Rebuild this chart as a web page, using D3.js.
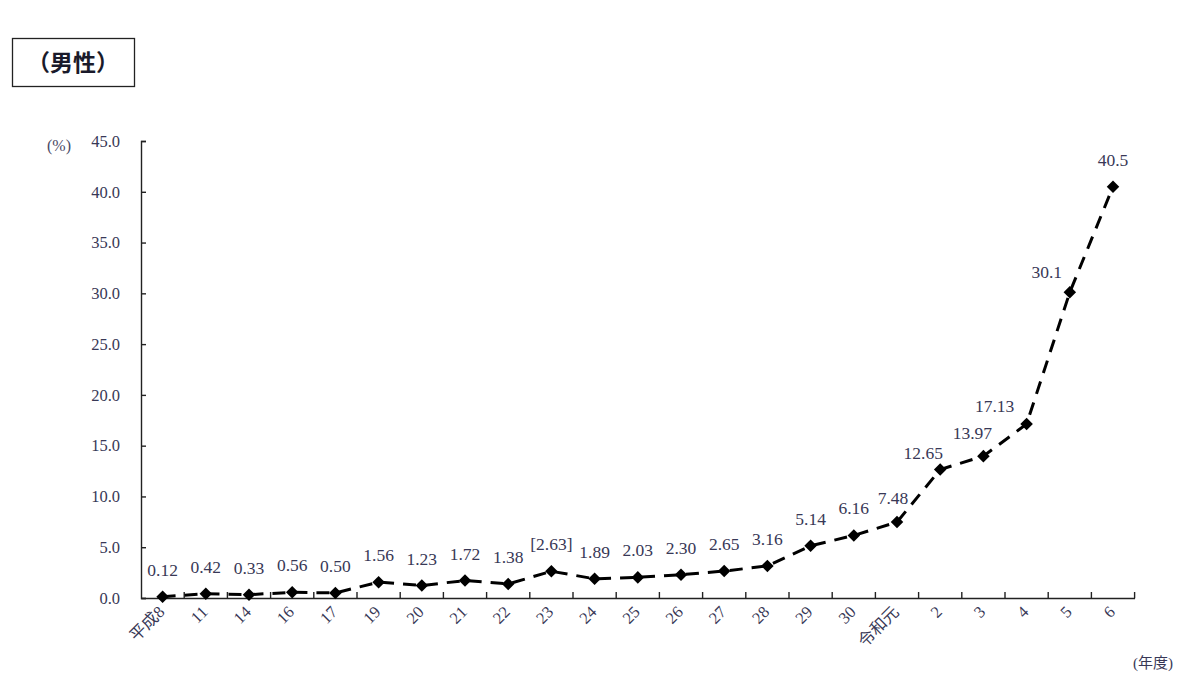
<!DOCTYPE html>
<html><head><meta charset="utf-8">
<script src="https://cdn.jsdelivr.net/npm/d3@7"></script>
<style>body{margin:0;background:#fff;} svg{display:block;}</style>
</head><body>
<svg id="c" width="1200" height="692"></svg>
<script>
const categories = ["平成8","11","14","16","17","19","20","21","22","23","24","25","26","27","28","29","30","令和元","2","3","4","5","6"];
const values = [0.12,0.42,0.33,0.56,0.50,1.56,1.23,1.72,1.38,2.63,1.89,2.03,2.30,2.65,3.16,5.14,6.16,7.48,12.65,13.97,17.13,30.1,40.5];
const valueLabels = ["0.12","0.42","0.33","0.56","0.50","1.56","1.23","1.72","1.38","[2.63]","1.89","2.03","2.30","2.65","3.16","5.14","6.16","7.48","12.65","13.97","17.13","30.1","40.5"];
const yTicks = [0,5,10,15,20,25,30,35,40,45];
const titleText = "（男性）";

(function(){
const svg = d3.select("#c");
const mLeft = 141, mRight = 1134.6, mTop = 141, mBottom = 598;
const serif = "'Liberation Serif','DejaVu Serif','Noto Sans CJK JP',serif";
const txtColor = "#383856";

const x = d3.scaleBand().domain(categories).range([mLeft, mRight]).padding(0);
const y = d3.scaleLinear().domain([0, 45]).range([mBottom, mTop]);

// title box
svg.append("rect").attr("x",12.5).attr("y",38.5).attr("width",122).attr("height",48)
  .attr("fill","none").attr("stroke","#222").attr("stroke-width",1.3);
svg.append("text").attr("x",73).attr("y",71).attr("text-anchor","middle")
  .attr("font-family","'Noto Sans CJK JP',sans-serif").attr("font-weight","bold")
  .attr("font-size",23).attr("fill","#1a1a2a").text(titleText);

// y axis
const yAxis = svg.append("g").attr("transform",`translate(${mLeft},0)`)
  .call(d3.axisRight(y).tickValues(yTicks).tickSize(5).tickFormat(d3.format(".1f")));
yAxis.select(".domain").attr("stroke","#222").attr("stroke-width",1.4);
yAxis.selectAll(".tick line").attr("stroke","#222").attr("stroke-width",1.4);
yAxis.selectAll(".tick text").attr("x",-21).attr("text-anchor","end")
  .attr("font-family",serif).attr("font-size",16.5).attr("fill",txtColor);

// x axis
const xAxis = svg.append("g").attr("transform",`translate(0,${mBottom})`)
  .call(d3.axisTop(x).tickSize(0).tickFormat(""));
xAxis.select(".domain").attr("stroke","#222").attr("stroke-width",1.4);
xAxis.selectAll(".tick").remove();
const bounds = d3.range(categories.length + 1).map(i => mLeft + i * x.bandwidth());
xAxis.selectAll("line.b").data(bounds.slice(1)).enter().append("line").attr("class","b")
  .attr("x1",d=>d).attr("x2",d=>d).attr("y1",0).attr("y2",-6)
  .attr("stroke","#222").attr("stroke-width",1.4);

svg.append("g").selectAll("text").data(categories).enter().append("text")
  .attr("transform", d => `translate(${x(d)+x.bandwidth()/2+3},${mBottom+15}) rotate(-45)`)
  .attr("text-anchor","end").attr("font-family",serif).attr("font-size",16.5)
  .attr("fill",txtColor).text(d=>d);

// unit labels
svg.append("text").attr("x",47).attr("y",151).attr("font-family",serif)
  .attr("font-size",16).attr("fill","#4a4a66").text("(%)");
svg.append("text").attr("x",1133).attr("y",668).attr("font-family",serif)
  .attr("font-size",15).attr("fill",txtColor).text("(年度)");

// line
const pts = categories.map((c,i)=>({c, v: values[i], lab: valueLabels[i]}));
const line = d3.line().x(d=>x(d.c)+x.bandwidth()/2).y(d=>y(d.v));
svg.append("path").datum(pts).attr("d",line).attr("fill","none")
  .attr("stroke","#000").attr("stroke-width",3).attr("stroke-dasharray","13,9");

svg.append("g").selectAll("path").data(pts).enter().append("path")
  .attr("d", d3.symbol().type(d3.symbolDiamond2).size(100))
  .attr("transform", d=>`translate(${x(d.c)+x.bandwidth()/2},${y(d.v)})`)
  .attr("fill","#000");

// value labels
const shiftX = {"7.48":-4,"12.65":-17,"13.97":-11,"17.13":-32,"30.1":-23};
const shiftY = {"7.48":-18,"12.65":-11,"13.97":-17,"17.13":-12,"30.1":-14};
svg.append("g").selectAll("text").data(pts).enter().append("text")
  .attr("x", d=>x(d.c)+x.bandwidth()/2 + (shiftX[d.lab]||0))
  .attr("y", d=>y(d.v) + (shiftY[d.lab]!==undefined ? shiftY[d.lab] : -21))
  .attr("text-anchor","middle").attr("font-family",serif).attr("font-size",17.5)
  .attr("fill",txtColor).text(d=>d.lab);
})();
</script>
</body></html>
